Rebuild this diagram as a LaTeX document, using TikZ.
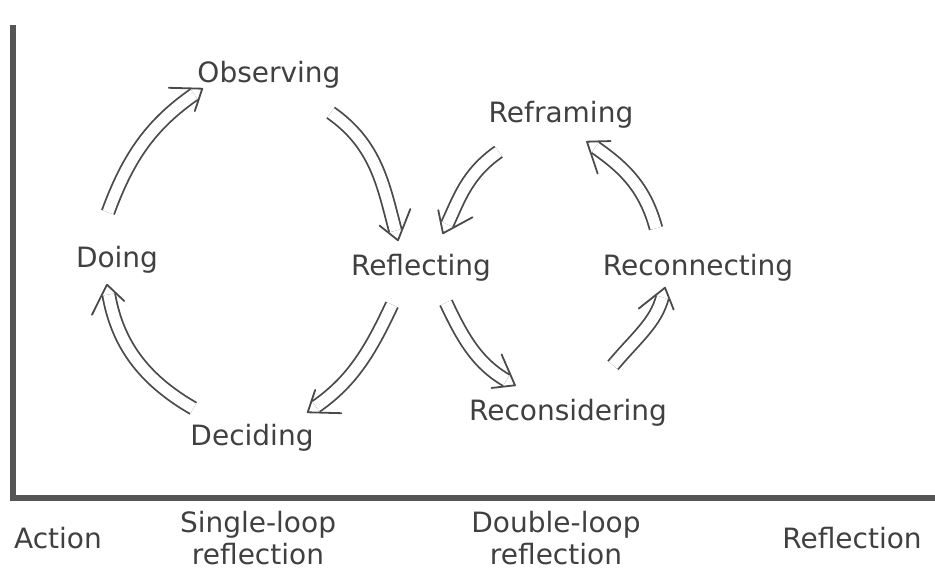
\documentclass[tikz,border=0pt]{standalone}
\usepackage{fontspec}
\setmainfont{DejaVu Sans}
\usetikzlibrary{arrows.meta,positioning,decorations.markings}
\definecolor{textgray}{HTML}{404040}
\definecolor{arrowgray}{HTML}{4A4A4A}
\definecolor{axisgray}{HTML}{555555}
\tikzset{
	stage/.style={rectangle,inner sep=0pt,text height=21pt,text depth=6pt,text=textgray,font=\fontsize{28}{32}\selectfont},
	axislabel/.style={rectangle,inner sep=0pt,align=center,text=textgray,font=\fontsize{28}{32}\selectfont},
	cyclearrow/.style={double,double distance=11pt,line width=1.8pt,draw=arrowgray,shorten >=10pt,
		postaction={decorate,decoration={markings,mark=at position 1 with {\draw [arrowgray,line width=1.8pt,line cap=round,line join=round] (-27pt,20pt) -- (0pt,0pt) -- (-27pt,-20pt);}}}}
}
\begin{document}
\begin{tikzpicture}[auto, x=1pt, y=1pt]
	\useasboundingbox (0,0) rectangle (935,575);
	% Place nodes
	\node [stage] at (269,500) (obs) {Observing};
	\node [stage] at (117,315) (doing) {Doing};
	\node [stage] at (421,307) (refl) {Reflecting};
	\node [stage] at (252,137) (dec) {Deciding};
	\node [stage] at (561,460) (refr) {Reframing};
	\node [stage,right of=refl,node distance=277pt] (reconn) {Reconnecting};
	\node [stage] at (568,162) (recons) {Reconsidering};
	
	\node [axislabel] at (58,37) (action) {Action};
	\node [axislabel,right of=action,node distance=200pt] (single) {Single-loop\\reflection};
	\node [axislabel,right of=single,node distance=298pt] (double) {Double-loop\\reflection};
	\node [axislabel,right of=double,node distance=296pt] (reflection) {Reflection};
	
	% axes
	\draw [line width=6pt,color=axisgray] (13,550) -- (13,77) -- (935,77);
	
	% single loop
	\draw [cyclearrow] ([xshift=-9pt,yshift=34pt]doing.north) to[out=70,in=215] ([xshift=5pt]obs.south west);
	\draw [cyclearrow] ([xshift=-10pt,yshift=-24pt]obs.south east) to[out=-35,in=105] ([xshift=-23pt,yshift=14pt]refl.north);
	\draw [cyclearrow] ([xshift=-29pt,yshift=-23pt]refl.south) to[out=-115,in=35] ([xshift=-6pt,yshift=12pt]dec.north east);
	\draw [cyclearrow] ([xshift=3pt,yshift=16pt]dec.north west) to[out=150,in=-80] ([xshift=-10pt,yshift=-11pt]doing.south);
	
	% double loop
	\draw [cyclearrow] ([xshift=10pt,yshift=-23pt]refr.south west) to[out=-145,in=65] ([xshift=22pt,yshift=21pt]refl.north);
	\draw [cyclearrow] ([xshift=25pt,yshift=-21pt]refl.south) to[out=-65,in=150] ([xshift=-53pt,yshift=14pt]recons.north);
	\draw [cyclearrow] ([xshift=45pt,yshift=34pt]recons.north) to[out=50,in=-105] ([xshift=-33pt,yshift=-6pt]reconn.south);
	\draw [cyclearrow] ([xshift=-42pt,yshift=26pt]reconn.north) to[out=105,in=-35] ([xshift=26pt,yshift=-13pt]refr.south);
\end{tikzpicture}
\end{document}
